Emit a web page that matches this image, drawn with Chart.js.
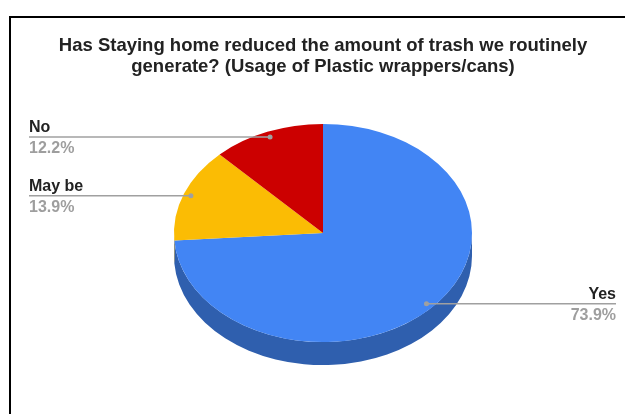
<!DOCTYPE html>
<html>
<head>
<meta charset="utf-8">
<script src="https://cdn.jsdelivr.net/npm/chart.js@4.4.0/dist/chart.umd.min.js"></script>
<style>
  html, body { margin: 0; padding: 0; background: #fff; }
  #wrap { position: relative; width: 625px; height: 414px; overflow: hidden; }
  #frame { position: absolute; left: 9px; top: 16px; width: 700px; height: 500px;
           border-left: 2px solid #000; border-top: 2px solid #000; pointer-events: none; }
</style>
</head>
<body>
<div id="wrap">
  <canvas id="myChart" width="625" height="414"></canvas>
  <div id="frame"></div>
</div>
<script>
'use strict';
var labels = ['Yes', 'May be', 'No'];
var shares = [73.9, 13.9, 12.2];
var colors = ['#4285f4', '#fbbc04', '#cc0000'];
var sideColors = ['#2f5fae', '#b98a03', '#8e0000'];
var titleLines = ['Has Staying home reduced the amount of trash we routinely',
                  'generate? (Usage of Plastic wrappers/cans)'];

var squash = 0.732;   // top face is drawn as an ellipse
var depth = 23;       // height of the pie wall
var fontFamily = '"Liberation Sans", Arial, sans-serif';

// draws the wall under the pie and squashes the slices
var tiltPlugin = {
    id: 'tilt',
    beforeDatasetsDraw: function(chart) {
        var meta = chart.getDatasetMeta(0);
        var ctx = chart.ctx;
        var cx = meta.data[0].x, cy = meta.data[0].y;
        ctx.save();
        ctx.translate(cx, cy);
        ctx.scale(1, squash);
        ctx.translate(-cx, -cy);
        meta.data.forEach(function(arc, i) {
            var a0 = Math.max(arc.startAngle, 0);
            var a1 = Math.min(arc.endAngle, Math.PI);
            if (a1 <= a0) return;
            ctx.beginPath();
            ctx.arc(cx, cy, arc.outerRadius, a0, a1);
            ctx.arc(cx, cy + depth / squash, arc.outerRadius, a1, a0, true);
            ctx.closePath();
            ctx.fillStyle = sideColors[i];
            ctx.fill();
        });
    },
    afterDatasetsDraw: function(chart) {
        var ctx = chart.ctx;
        ctx.restore();
        var meta = chart.getDatasetMeta(0);
        meta.data.forEach(function(arc, i) {
            var mid = (arc.startAngle + arc.endAngle) / 2;
            var px = arc.x + 0.95 * arc.outerRadius * Math.cos(mid);
            var py = arc.y + 0.95 * arc.outerRadius * Math.sin(mid) * squash;
            var left = Math.cos(mid) < 0;
            var tx = left ? 29 : 616;
            ctx.save();
            ctx.strokeStyle = '#a0a0a0';
            ctx.lineWidth = 1.5;
            ctx.beginPath();
            ctx.moveTo(tx, py);
            ctx.lineTo(px, py);
            ctx.stroke();
            ctx.fillStyle = '#a0a0a0';
            ctx.beginPath();
            ctx.arc(px, py, 2.5, 0, Math.PI * 2);
            ctx.fill();
            ctx.textAlign = left ? 'left' : 'right';
            ctx.font = 'bold 16px ' + fontFamily;
            ctx.fillStyle = '#222';
            ctx.textBaseline = 'alphabetic';
            ctx.fillText(labels[i], tx, py - 5);
            ctx.fillStyle = '#9e9e9e';
            ctx.textBaseline = 'top';
            ctx.fillText(shares[i].toFixed(1) + '%', tx, py + 4);
            ctx.restore();
        });
    }
};

var ctx = document.getElementById('myChart').getContext('2d');
var myChart = new Chart(ctx, {
    type: 'pie',
    data: {
        labels: labels,
        datasets: [{
            data: shares,
            backgroundColor: colors,
            borderWidth: 0,
            hoverOffset: 0
        }]
    },
    options: {
        responsive: false,
        animation: false,
        layout: { padding: { left: 21, right: 0, top: 0, bottom: 32 } },
        plugins: {
            legend: { display: false },
            tooltip: { enabled: false },
            title: {
                display: true,
                text: titleLines,
                color: '#222',
                font: { family: fontFamily, size: 18.5, weight: 'bold', lineHeight: '21px' },
                padding: { top: 35, bottom: 7 }
            }
        }
    },
    plugins: [tiltPlugin]
});
</script>
</body>
</html>
